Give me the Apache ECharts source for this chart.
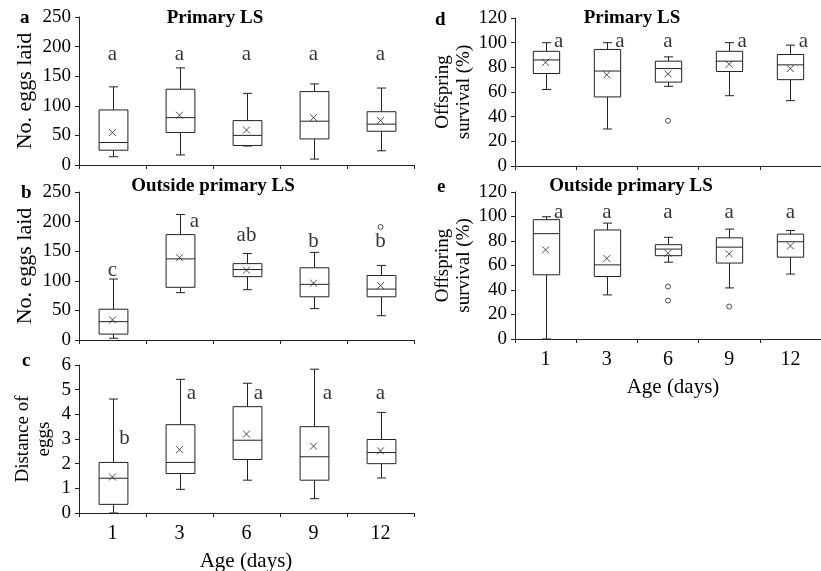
<!DOCTYPE html>
<html><head><meta charset="utf-8">
<script src="https://cdn.jsdelivr.net/npm/echarts@6/dist/echarts.min.js"></script>
<style>html,body{margin:0;padding:0;background:#fff}#c{width:821px;height:571px}</style>
</head><body><div id="c"></div>
<script>
const categories = ['1','3','6','9','12'];
// [min, Q1, median, Q3, max]
const boxA = [[14,25,38,93,132],[17,55,80,128,164],[32,33,50,75,121],[10,44,74,124,137],[24,57,69,90,130]];
const meanA = [55,84,59,80,75];
const outA = [];
const lettersA = ['a','a','a','a','a'];
const letterYA = [186,186,186,186,186];

const boxB = [[3,10,31,52,103],[80,89,137,178,212],[85,107,119,129,146],[53,73,94,122,148],[41,73,86,109,126]];
const meanB = [34,139,118,96,92];
const outB = [[4,191]];
const lettersB = ['c','a','ab','b','b'];
const letterYB = [118,200,176,166,166];

const boxC = [[0,0.35,1.41,2.05,4.62],[0.96,1.6,2.05,3.58,5.42],[1.33,2.17,2.95,4.31,5.26],[0.58,1.33,2.28,3.5,5.83],[1.42,2.0,2.45,2.98,4.08]];
const meanC = [1.46,2.57,3.2,2.71,2.52];
const outC = [];
const lettersC = ['b','a','a','a','a'];
const letterYC = [3.02,4.85,4.85,4.85,4.85];

const boxD = [[62,75,86,93,100],[30,56,77,94.5,100],[64.6,68,79,85,88.5],[57,76.6,85,93,100],[53,70,82,90.4,98]];
const meanD = [84,74,74.7,82.5,79];
const outD = [[2,36.7]];
const lettersD = ['a','a','a','a','a'];
const letterYD = [101,101,101,101,101];

const boxE = [[0,52.4,86,97.4,99.8],[36,51,60.5,89,94.6],[62.7,68,73.4,77,83],[41.7,62,75,82.6,89.7],[53,66.8,79.4,85.6,88.6]];
const meanE = [72.8,65.7,70,69.5,76];
const outE = [[2,42.8],[2,31.4],[3,26.5]];
const lettersE = ['a','a','a','a','a'];
const letterYE = [103,103,103,103,103];

const FONT = 'Liberation Serif';
const INK = '#222';

const panels = [
  {box:boxA, mean:meanA, out:outA, letters:lettersA, ly:letterYA, lx:[0,0,0,0,0], grid:{left:79, top:17, width:335, height:148}, y:{min:0,max:250,interval:50}, name:'No. eggs laid', nameSize:22, nameGap:43, showX:false},
  {box:boxB, mean:meanB, out:outB, letters:lettersB, ly:letterYB, lx:[0,15,0,0,0], grid:{left:79, top:192, width:335, height:148}, y:{min:0,max:250,interval:50}, name:'No. eggs laid', nameSize:22, nameGap:43, showX:false},
  {box:boxC, mean:meanC, out:outC, letters:lettersC, ly:letterYC, lx:[12,12,12,14,0], grid:{left:79, top:365, width:335, height:148}, y:{min:0,max:6,interval:1}, name:'Distance of\neggs', nameSize:19, nameGap:24, showX:true},
  {box:boxD, mean:meanD, out:outD, letters:lettersD, ly:letterYD, lx:[13,13,0,13,13], grid:{left:515, top:18, width:318, height:148}, y:{min:0,max:120,interval:20}, name:'Offspring\nsurvival (%)', nameSize:19, nameGap:40, showX:false},
  {box:boxE, mean:meanE, out:outE, letters:lettersE, ly:letterYE, lx:[13,0,0,0,0], grid:{left:515, top:192, width:318, height:147}, y:{min:0,max:120,interval:20}, name:'Offspring\nsurvival (%)', nameSize:19, nameGap:40, showX:true}
];

function renderBox(params, api) {
  const x = api.value(0);
  const lo = api.coord([x, api.value(1)]);
  const q1 = api.coord([x, api.value(2)]);
  const md = api.coord([x, api.value(3)]);
  const q3 = api.coord([x, api.value(4)]);
  const hi = api.coord([x, api.value(5)]);
  const bw = api.size([1, 0])[0] * 0.43;
  const cx = Math.round(lo[0]) + 0.5;
  const cap = 4.5;
  const st = {stroke: INK, lineWidth: 1, fill: null};
  const ln = (x1,y1,x2,y2) => ({type:'line', shape:{x1,y1,x2,y2}, style: st});
  return {type:'group', children:[
    ln(cx, hi[1], cx, q3[1]),
    ln(cx, q1[1], cx, lo[1]),
    ln(cx-cap, hi[1], cx+cap, hi[1]),
    ln(cx-cap, lo[1], cx+cap, lo[1]),
    {type:'rect', shape:{x:cx-bw/2, y:q3[1], width:bw, height:q1[1]-q3[1]}, style:{fill:'#fff', stroke:INK, lineWidth:1}},
    ln(cx-bw/2, md[1], cx+bw/2, md[1])
  ]};
}

const grids = [], xAxes = [], yAxes = [], series = [];
panels.forEach((p, i) => {
  grids.push(p.grid);
  xAxes.push({
    type:'category', data:categories, gridIndex:i, boundaryGap:true,
    axisLine:{lineStyle:{color:INK, width:1}},
    axisTick:{show:true, inside:false, length:4, alignWithLabel:false, lineStyle:{color:INK}},
    axisLabel:{show:p.showX, fontFamily:FONT, fontSize:20, color:'#000', margin:11},
    splitLine:{show:false}
  });
  yAxes.push({
    type:'value', gridIndex:i, min:p.y.min, max:p.y.max, interval:p.y.interval,
    axisLine:{show:true, lineStyle:{color:INK, width:1}},
    axisTick:{show:true, length:4, lineStyle:{color:INK}},
    axisLabel:{fontFamily:FONT, fontSize:19, color:'#000', margin:8},
    splitLine:{show:false},
    name:p.name, nameLocation:'middle', nameRotate:90, nameGap:p.nameGap,
    nameTextStyle:{fontFamily:FONT, fontSize:p.nameSize, color:'#000', lineHeight:21}
  });
  series.push({
    type:'custom', xAxisIndex:i, yAxisIndex:i, renderItem:renderBox,
    encode:{x:0, y:[1,2,3,4,5]},
    data:p.box.map((b, k) => [k, ...b]), z:2
  });
  series.push({
    type:'scatter', xAxisIndex:i, yAxisIndex:i,
    symbol:'path://M0,0L10,10M10,0L0,10', symbolSize:7,
    itemStyle:{color:'none', borderColor:INK, borderWidth:1},
    data:p.mean.map((m, k) => [k, m]), z:3
  });
  if (p.out.length) series.push({
    type:'scatter', xAxisIndex:i, yAxisIndex:i, symbol:'circle', symbolSize:5,
    itemStyle:{color:'#fff', borderColor:INK, borderWidth:1},
    data:p.out, z:3
  });
  series.push({
    type:'scatter', xAxisIndex:i, yAxisIndex:i, symbolSize:0, silent:true,
    data:p.letters.map((t, k) => ({value:[k, p.ly[k]], label:{offset:[p.lx[k],0]}, name:t})),
    label:{show:true, position:'inside', formatter:(d) => d.name, fontFamily:FONT, fontSize:21, color:'#000'},
    z:4
  });
});

const tStyle = {fontFamily:FONT, fontSize:19, fontWeight:'bold', color:'#000'};
const titles = [
  {text:'Primary LS', left:215, top:9},
  {text:'Outside primary LS', left:213, top:177},
  {text:'Primary LS', left:632, top:9},
  {text:'Outside primary LS', left:631, top:177}
].map(t => ({text:t.text, left:t.left, top:t.top, textAlign:'center', padding:0, textStyle:tStyle}));
const tags = [
  {text:'a', left:20, top:9}, {text:'b', left:21, top:184}, {text:'c', left:22, top:352},
  {text:'d', left:435, top:11}, {text:'e', left:437, top:178}
].map(t => ({text:t.text, left:t.left, top:t.top, padding:0, textStyle:tStyle}));
const axTitles = [
  {text:'Age (days)', left:246, top:551},
  {text:'Age (days)', left:673, top:377}
].map(t => ({text:t.text, left:t.left, top:t.top, textAlign:'center', padding:0, textStyle:{fontFamily:FONT, fontSize:21, fontWeight:'normal', color:'#000'}}));

const chart = echarts.init(document.getElementById('c'), null, {renderer:'canvas'});
chart.setOption({
  animation:false,
  backgroundColor:'#fff',
  title:[...titles, ...tags, ...axTitles],
  grid:grids, xAxis:xAxes, yAxis:yAxes, series
});
</script></body></html>
